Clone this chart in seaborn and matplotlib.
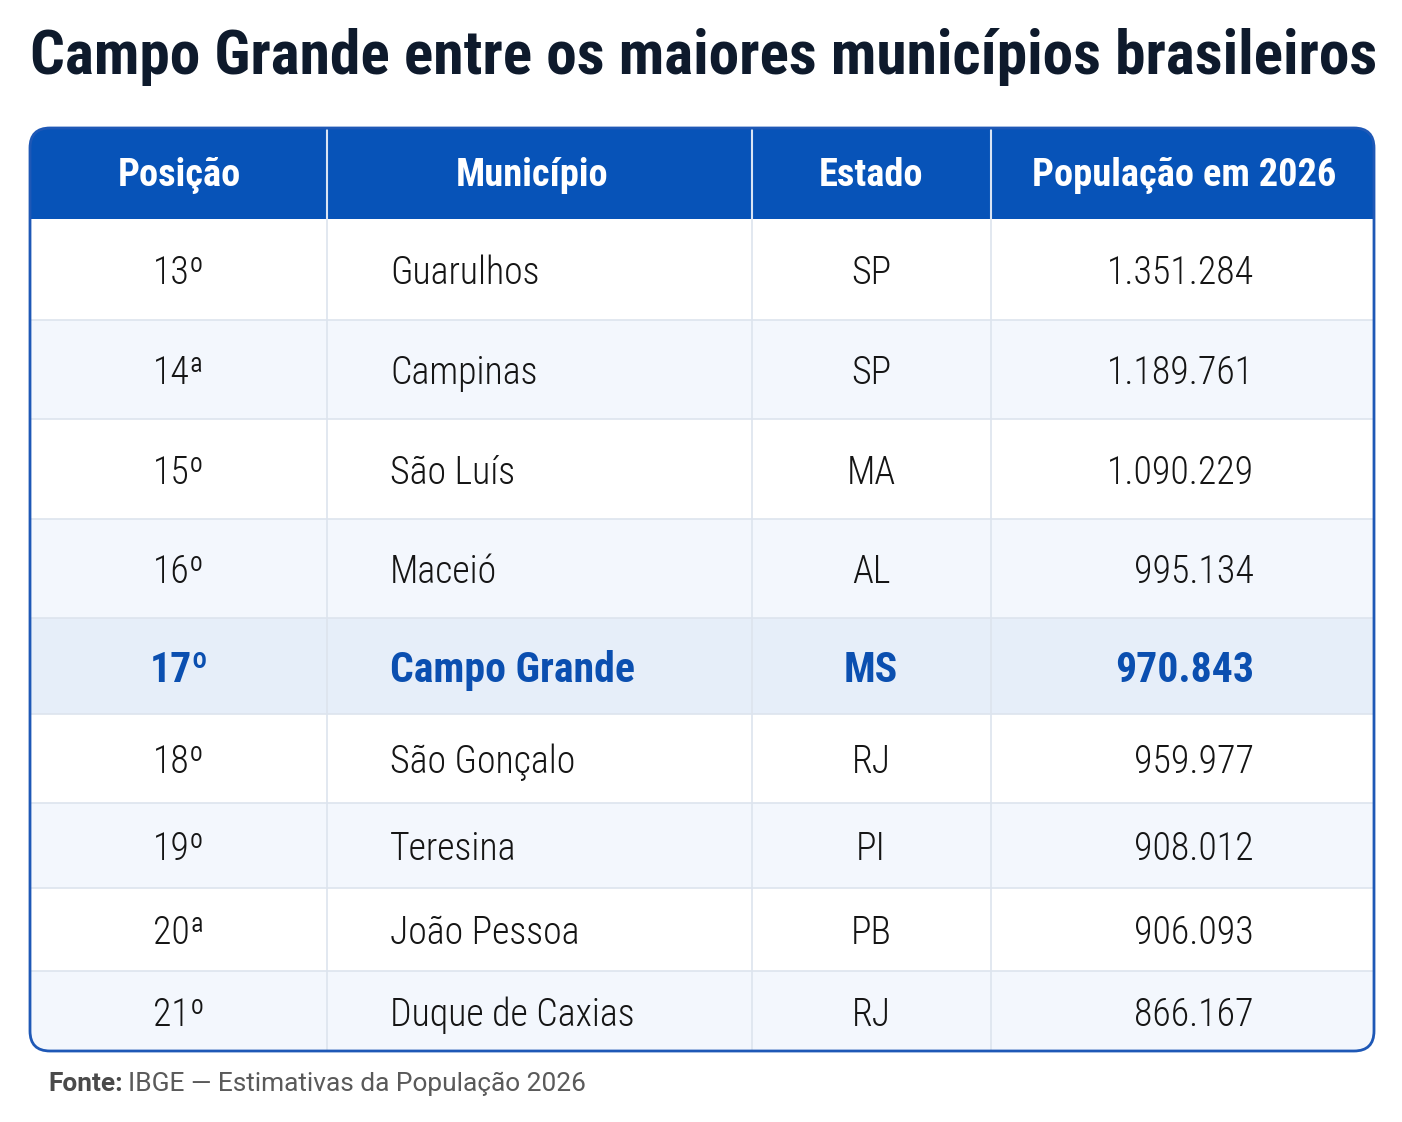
import matplotlib
matplotlib.use("Agg")
import numpy as np
import pandas as pd
import seaborn as sns
import matplotlib.pyplot as plt
from matplotlib.patches import FancyBboxPatch, Rectangle
from matplotlib import font_manager as fm

# ---------------- data ----------------
title = "Campo Grande entre os maiores municípios brasileiros"
columns = ["Posição", "Município", "Estado", "População em 2026"]
posicao = ["13º", "14ª", "15º", "16º", "17º", "18º", "19º", "20ª", "21º"]
municipio = ["Guarulhos", "Campinas", "São Luís", "Maceió", "Campo Grande",
             "São Gonçalo", "Teresina", "João Pessoa", "Duque de Caxias"]
estado = ["SP", "SP", "MA", "AL", "MS", "RJ", "PI", "PB", "RJ"]
populacao = [1351284, 1189761, 1090229, 995134, 970843, 959977, 908012, 906093, 866167]
highlight = "Campo Grande"
fonte_label = "Fonte:"
fonte_text = "IBGE — Estimativas da População 2026"

df = pd.DataFrame({"pos": posicao, "mun": municipio, "uf": estado, "pop": populacao})


def fmt(n):
    return f"{n:,}".replace(",", ".")


# ---------------- style ----------------
sns.set_theme(style="white")
HEADER_BLUE = "#0753b8"
HIGHLIGHT_BG = "#e6eef9"
ALT_BG = "#f3f7fd"
GRID = "#dde4ee"
TITLE_COL = "#0e1a2c"
TEXT_COL = "#151515"
HL_TEXT = "#0b4fb0"

names = {f.name for f in fm.fontManager.ttflist}
cond = None
for cand in ["Roboto Condensed", "Liberation Sans Narrow", "Open Sans Condensed",
             "Arial Narrow", "Noto Sans Condensed"]:
    if cand in names:
        cond = dict(family=cand)
        break
if cond is None:
    for f in fm.fontManager.ttflist:
        if f.name == "DejaVu Sans" and "ondensed" in f.fname:
            cond = dict(family="DejaVu Sans", stretch="condensed")
            break
if cond is None:
    cond = dict(family="Roboto")
plain = dict(family="Roboto") if "Roboto" in names else dict(family="DejaVu Sans")

W, H = 1402, 1122
fig = plt.figure(figsize=(W / 100, H / 100), dpi=100)
ax = fig.add_axes([0, 0, 1, 1])
ax.set_xlim(0, W)
ax.set_ylim(H, 0)
ax.axis("off")
renderer = fig.canvas.get_renderer()


def fit(t, target_w, max_fs=None):
    bb = t.get_window_extent(renderer)
    fs = t.get_fontsize() * target_w / bb.width
    if max_fs is not None:
        fs = min(fs, max_fs)
    t.set_fontsize(fs)
    return fs


def measure_fs(s, target_w, max_fs=None, **kw):
    t = ax.text(0, 0, s, fontsize=30, **kw)
    fs = fit(t, target_w, max_fs)
    t.remove()
    return fs


# ---------------- layout ----------------
left, right, top, bottom = 30, 1374, 128, 1051
header_bottom = 219
col_edges = [30, 327, 752, 991, 1374]
row_edges = [219, 320, 419, 519, 618, 714, 803, 888, 971, 1051]

shape = FancyBboxPatch((left, top), right - left, bottom - top,
                       boxstyle="round,pad=0,rounding_size=20",
                       fc="white", ec="none", zorder=1)
ax.add_patch(shape)

hdr = Rectangle((left, top), right - left, header_bottom - top, fc=HEADER_BLUE,
                ec="none", zorder=2)
ax.add_patch(hdr)
hdr.set_clip_path(shape)

hl_idx = int(np.where(df["mun"] == highlight)[0][0])
for i in range(len(df)):
    y0, y1 = row_edges[i], row_edges[i + 1]
    if i == hl_idx:
        fc = HIGHLIGHT_BG
    elif (i < hl_idx and i % 2 == 1) or (i > hl_idx and (i - hl_idx) % 2 == 0):
        fc = ALT_BG
    else:
        fc = "white"
    r = Rectangle((left, y0), right - left, y1 - y0, fc=fc, ec="none", zorder=2)
    ax.add_patch(r)
    r.set_clip_path(shape)
    if i > 0:
        ax.plot([left + 1, right - 1], [y0, y0], color=GRID, lw=1.2, zorder=3)

for x in col_edges[1:-1]:
    ax.plot([x, x], [top + 2, header_bottom], color="white", lw=1.5, alpha=0.85, zorder=3)
    ax.plot([x, x], [header_bottom, bottom - 1], color=GRID, lw=1.2, zorder=3)

border = FancyBboxPatch((left, top), right - left, bottom - top,
                        boxstyle="round,pad=0,rounding_size=20",
                        fc="none", ec="#1e58b6", lw=2, zorder=5)
ax.add_patch(border)

# ---------------- text ----------------
fs_title = measure_fs(title, 1348, weight="heavy", **cond)
ax.text(30, 57, title, fontsize=fs_title, weight="heavy", color=TITLE_COL,
        ha="left", va="center", zorder=6, **cond)

fs_head = measure_fs(columns[3], 304, weight="bold", **cond)
head_x = [179, 532, 871, 1184]
for cx, c in zip(head_x, columns):
    ax.text(cx, 175, c, fontsize=fs_head, weight="bold", color="white",
            ha="center", va="center", zorder=6, **cond)

fs_body = measure_fs("Guarulhos", 150, weight="light", **cond)
fs_hl = measure_fs(highlight, 245, weight="bold", **cond)

for i, row in df.iterrows():
    cy = (row_edges[i] + row_edges[i + 1]) / 2 + 4
    is_hl = row["mun"] == highlight
    kw = dict(fontsize=fs_hl if is_hl else fs_body,
              weight="bold" if is_hl else "light",
              color=HL_TEXT if is_hl else TEXT_COL, va="center", zorder=6, **cond)
    ax.text(179, cy, row["pos"], ha="center", **kw)
    ax.text(390, cy, row["mun"], ha="left", **kw)
    ax.text(871, cy, row["uf"], ha="center", **kw)
    ax.text(1254, cy, fmt(row["pop"]), ha="right", **kw)

fs_foot = measure_fs(fonte_label + " " + fonte_text, 536, **plain)
t1 = ax.text(48, 1084, fonte_label, fontsize=fs_foot, weight="bold", color="#4a4a4a",
             ha="left", va="center", zorder=6, **plain)
bb = t1.get_window_extent(renderer)
x2 = 48 + bb.width + fs_foot * 0.3
ax.text(x2, 1084, fonte_text, fontsize=fs_foot, color="#5a5a5a",
        ha="left", va="center", zorder=6, **plain)

fig.savefig("out.png", dpi=100, facecolor="white")
